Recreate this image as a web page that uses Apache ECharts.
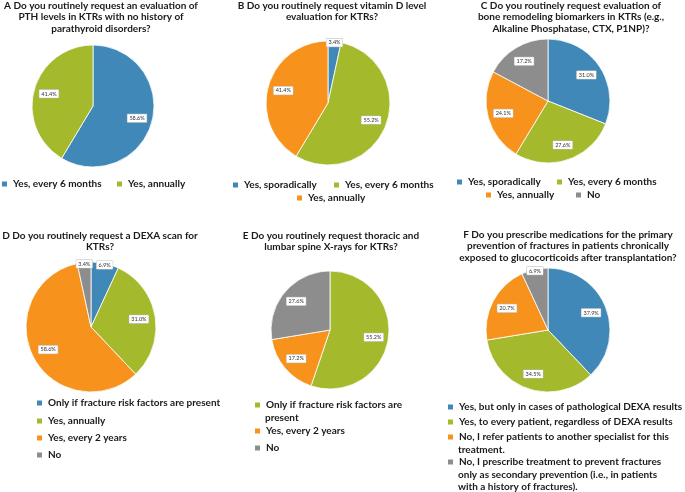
<!DOCTYPE html>
<html>
<head>
<meta charset="utf-8">
<script src="https://cdn.jsdelivr.net/npm/echarts@6/dist/echarts.min.js"></script>
<style>
  html, body { margin: 0; padding: 0; background: #fff; }
  #chart { width: 685px; height: 492px; }
</style>
</head>
<body>
<div id="chart"></div>
<script>
// survey answers, percent of respondents
const titleA = 'A Do you routinely request an evaluation of\nPTH levels in KTRs with no history of\nparathyroid disorders?';
const catsA = ['Yes, every 6 months', 'Yes, annually'];
const valsA = [58.6, 41.4];

const titleB = 'B Do you routinely request vitamin D level\nevaluation for KTRs?';
const catsB = ['Yes, sporadically', 'Yes, every 6 months', 'Yes, annually'];
const valsB = [3.4, 55.2, 41.4];

const titleC = 'C Do you routinely request evaluation of\nbone remodeling biomarkers in KTRs (e.g.,\nAlkaline Phosphatase, CTX, P1NP)?';
const catsC = ['Yes, sporadically', 'Yes, every 6 months', 'Yes, annually', 'No'];
const valsC = [31.0, 27.6, 24.1, 17.2];

const titleD = 'D Do you routinely request a DEXA scan for\nKTRs?';
const catsD = ['Only if fracture risk factors are present', 'Yes, annually', 'Yes, every 2 years', 'No'];
const valsD = [6.9, 31.0, 58.6, 3.4];

const titleE = 'E Do you routinely request thoracic and\nlumbar spine X-rays for KTRs?';
const catsE = ['Only if fracture risk factors are present', 'Yes, every 2 years', 'No'];
const valsE = [55.2, 17.2, 27.6];

const titleF = 'F Do you prescribe medications for the primary\nprevention of fractures in patients chronically\nexposed to glucocorticoids after transplantation?';
const catsF = [
  'Yes, but only in cases of pathological DEXA results',
  'Yes, to every patient, regardless of DEXA results',
  'No, I refer patients to another specialist for this treatment.',
  'No, I prescribe treatment to prevent fractures only as secondary prevention (i.e., in patients with a history of fractures).'
];
const valsF = [37.9, 34.5, 20.7, 6.9];

const BLUE = '#3f88b8', GREEN = '#a4b92c', ORANGE = '#f7931d', GREY = '#8d8d8d';
const FONT = 'Lato';
const LINE = 12.3;
const SMALL = 10; // slices under this share get their label pushed to the rim

// greedy word wrap by character count
function wrap(text, maxChars) {
  if (!maxChars) return [text];
  const out = [];
  let cur = '';
  text.split(' ').forEach(w => {
    if (cur && (cur + ' ' + w).length > maxChars) { out.push(cur); cur = w; }
    else cur = cur ? cur + ' ' + w : w;
  });
  out.push(cur);
  return out;
}

// legend rows: [item index, left, y of first text line, max chars per line]
const panels = [
  { title: titleA, tx: 101, ty: 0, cats: catsA, vals: valsA, colors: [BLUE, GREEN],
    center: [93, 106], r: 61,
    legend: [[0, 0, 185], [1, 115, 185]] },
  { title: titleB, tx: 332, ty: 0, cats: catsB, vals: valsB, colors: [BLUE, GREEN, ORANGE],
    center: [328, 103], r: 62,
    legend: [[0, 231, 186], [1, 332, 186], [2, 295, 199]] },
  { title: titleC, tx: 571, ty: 0, cats: catsC, vals: valsC, colors: [BLUE, GREEN, ORANGE, GREY],
    center: [548, 101], r: 62,
    legend: [[0, 455, 183], [1, 555, 183], [2, 484, 196], [3, 574, 196]] },
  { title: titleD, tx: 100, ty: 230, cats: catsD, vals: valsD, colors: [BLUE, GREEN, ORANGE, GREY],
    center: [91, 327], r: 65,
    legend: [[0, 35, 404], [1, 35, 422], [2, 35, 439], [3, 35, 456]] },
  { title: titleE, tx: 331, ty: 230, cats: catsE, vals: valsE, colors: [GREEN, ORANGE, GREY],
    center: [330, 330], r: 59,
    legend: [[0, 253, 406, 33], [1, 253, 432], [2, 253, 449]] },
  { title: titleF, tx: 568, ty: 229, cats: catsF, vals: valsF, colors: [BLUE, GREEN, ORANGE, GREY],
    center: [548, 330], r: 62,
    legend: [[0, 446, 408], [1, 446, 423], [2, 446, 438, 51], [3, 446, 463, 47]] }
];

const titles = [];
const legends = [];
const series = [];

const legendText = { fontFamily: FONT, fontSize: 10, fontWeight: 'bold', color: '#1a1a1a' };
const pctLabel = {
  position: 'inside',
  formatter: (d) => d.value.toFixed(1) + '%',
  fontFamily: FONT,
  fontSize: 5.5,
  color: '#333',
  backgroundColor: '#fff',
  borderColor: '#bbb',
  borderWidth: 0.5,
  padding: [1, 2]
};

panels.forEach((p, pi) => {
  titles.push({
    text: p.title,
    left: p.tx,
    top: p.ty,
    textAlign: 'center',
    padding: 0,
    textStyle: { fontFamily: FONT, fontSize: 10, fontWeight: 'bold', color: '#1a1a1a', lineHeight: 11.5 }
  });

  const base = {
    type: 'pie',
    center: p.center,
    startAngle: 90,
    clockwise: true,
    animation: false,
    silent: true,
    labelLine: { show: false }
  };

  // the visible pie
  series.push(Object.assign({}, base, {
    name: 'panel' + pi,
    radius: p.r,
    itemStyle: { borderColor: '#fff', borderWidth: 0.8 },
    label: { show: false },
    data: p.cats.map((c, i) => ({ name: c, value: p.vals[i], itemStyle: { color: p.colors[i] } }))
  }));

  // transparent rings that only carry the percentage labels:
  // wide slices labelled about 70% out, thin slices near the rim
  [[0.4, false], [0.86, true]].forEach(([inner, small]) => {
    series.push(Object.assign({}, base, {
      name: 'labels' + pi + (small ? 's' : 'w'),
      radius: [p.r * inner, p.r],
      z: 3,
      itemStyle: { color: 'rgba(0,0,0,0)' },
      label: Object.assign({ show: true }, pctLabel),
      data: p.cats.map((c, i) => ({
        name: c,
        value: p.vals[i],
        label: { show: (p.vals[i] < SMALL) === small }
      }))
    }));
  });

  // one legend per text line; continuation lines carry no marker
  p.legend.forEach(([idx, left, y, maxChars]) => {
    const name = p.cats[idx];
    wrap(name, maxChars).forEach((line, k) => {
      legends.push({
        left: left,
        top: y + k * LINE - 6,
        padding: 0,
        itemWidth: 7,
        itemHeight: 7,
        itemGap: 0,
        icon: k === 0 ? 'rect' : 'none',
        selectedMode: false,
        formatter: () => line,
        data: [{ name: name, itemStyle: { color: k === 0 ? p.colors[idx] : 'rgba(0,0,0,0)' } }],
        textStyle: legendText
      });
    });
  });
});

const chart = echarts.init(document.getElementById('chart'));
chart.setOption({
  backgroundColor: '#fff',
  animation: false,
  title: titles,
  legend: legends,
  series: series
});
window.addEventListener('resize', () => chart.resize());
</script>
</body>
</html>
